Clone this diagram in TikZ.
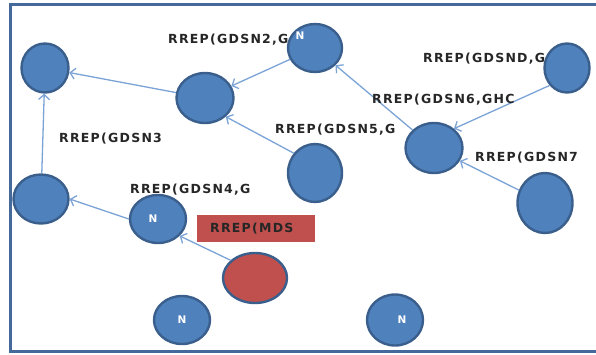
\documentclass[tikz,border=0pt]{standalone}
\usepackage{fontspec}
\usetikzlibrary{shapes.geometric,arrows.meta}
\newfontfamily\lblfont[LetterSpace=10]{DejaVu Sans}
\newfontfamily\nfont{DejaVu Sans}
\definecolor{nodefill}{HTML}{4F81BD}
\definecolor{nodeedge}{HTML}{3A5F8C}
\definecolor{redfill}{HTML}{C0504D}
\definecolor{arrowc}{HTML}{7BA3D6}
\definecolor{framec}{HTML}{44699A}
\begin{document}
\begin{tikzpicture}[x=1pt,y=-1pt,
  nd/.style={ellipse,draw=nodeedge,line width=2.4pt,fill=nodefill,inner sep=0pt},
  rednd/.style={nd,fill=redfill},
  arr/.style={draw=arrowc,line width=1.3pt,-{Straight Barb[length=5pt,width=11pt]}},
  lbl/.style={anchor=west,inner sep=0pt,font=\lblfont\bfseries\fontsize{12.5}{13}\selectfont,text=black!85},
  ntxt/.style={text=white,font=\nfont\bfseries\fontsize{10.5}{11}\selectfont,inner sep=0pt}]
\useasboundingbox (0,0) rectangle (596,354);
\begin{scope}
\clip (0,0) rectangle (596,354);
\draw[framec,line width=3.5pt] (10.5,4.5) rectangle (620,351.5);
\end{scope}
% nodes
\node[nd,minimum width=47pt,minimum height=49pt] (A) at (45,68) {};
\node[nd,minimum width=57pt,minimum height=50pt] (B) at (205,98) {};
\node[nd,minimum width=54pt,minimum height=48pt] (C) at (315,48) {};
\node[nd,minimum width=45pt,minimum height=49pt] (D) at (567,68) {};
\node[nd,minimum width=57pt,minimum height=50pt] (E) at (434,148) {};
\node[nd,minimum width=54pt,minimum height=58pt] (F) at (315,173) {};
\node[nd,minimum width=55pt,minimum height=60pt] (G) at (545,203) {};
\node[nd,minimum width=55pt,minimum height=49pt] (H) at (41,199) {};
\node[nd,minimum width=56pt,minimum height=48pt] (I) at (158,219) {};
\node[rednd,minimum width=64pt,minimum height=50pt] (J) at (255,278) {};
\node[nd,minimum width=56pt,minimum height=48pt] (K) at (182,320) {};
\node[nd,minimum width=56pt,minimum height=51pt] (L) at (395,320) {};
% N texts
\node[ntxt] (nC) at (300,36) {N};
\node[ntxt] (nI) at (153,219) {N};
\node[ntxt] (nK) at (182,320) {N};
\node[ntxt] (nL) at (402,320) {N};
% connectors
\draw[arr] (B) -- (A);
\draw[arr] (C) -- (B);
\draw[arr] (F.137) -- (B.-42);
\draw[arr] (E) -- (C);
\draw[arr] (D.-135) -- (E.44);
\draw[arr] (G) -- (E);
\draw[arr] (H) -- (A);
\draw[arr] (I.west) -- (H.east);
\draw[arr] (J.144) -- (I.-38);
% labels
\node[lbl] (l2) at (168,40) {RREP(GDSN2,G};
\node[lbl] (l3) at (59,139) {RREP(GDSN3};
\node[lbl] (l4) at (130,190) {RREP(GDSN4,G};
\node[lbl] (l5) at (275,130) {RREP(GDSN5,G};
\node[lbl] (lD) at (423,59) {RREP(GDSND,G};
\node[lbl] (l6) at (372,100) {RREP(GDSN6,GHC};
\node[lbl] (l7) at (475,158) {RREP(GDSN7};
\node[fill=redfill,anchor=north west,minimum height=27pt,text width=92pt,inner xsep=13pt,inner ysep=0pt,align=left,font=\lblfont\bfseries\fontsize{12.5}{13}\selectfont,text=black!85] (mds) at (197,215) {RREP(MDS};
\end{tikzpicture}
\end{document}
